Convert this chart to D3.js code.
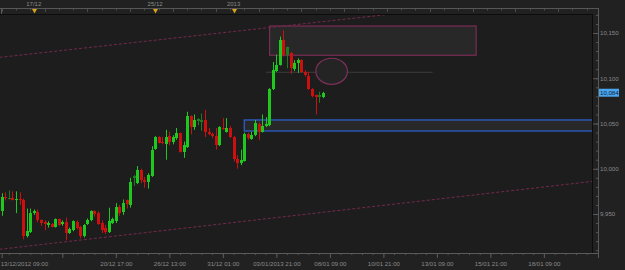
<!doctype html>
<html>
<head>
<meta charset="UTF-8">
<title>candles</title>
<script src="https://d3js.org/d3.v7.min.js"></script>
<style>
    body{ margin:0; background:#212121; }
    text{ font-family:"Liberation Sans", Arial, sans-serif; }
</style>
</head>
<body>
<script>
// 4 hour candles
var opens  = [9953,9969,9967,9968,9966,9967,9966,9926,9930,9951,9952,9943,9941,9938,9939,9936,9944,9939,9941,9929,
              9932,9941,9936,9926,9939,9943,9953,9951,9940,9935,9930,9940,9942,9958,9952,9965,9960,9990,9984,9999,
              9988,9985,9992,10022,10035,10030,10027,10036,10030,10034,10039,10019,10024,10058,10046,10053,10052,10054,10041,10038,
              10036,10026,10045,10041,10045,10035,10011,10006,10009,10038,10033,10037,10050,10041,10047,10048,10088,10108,10115,10142,
              10126,10128,10110,10117,10120,10107,10102,10088,10081,10079,10079];
var highs  = [9973,9974,9976,9975,9975,9974,9967,9956,9956,9955,9955,9944,9943,9942,9940,9945,9945,9943,9946,9935,
              9943,9943,9937,9939,9945,9954,9954,9953,9943,9938,9957,9946,9962,9960,9966,9966,9990,9993,10003,10000,
              9991,9995,10025,10036,10036,10035,10043,10041,10037,10045,10040,10030,10063,10059,10060,10056,10061,10065,10045,10040,
              10045,10047,10056,10056,10047,10036,10015,10021,10040,10040,10041,10054,10051,10060,10057,10089,10118,10126,10146,10153,
              10135,10129,10120,10122,10121,10109,10107,10089,10082,10085,10085];
var lows   = [9948,9965,9966,9965,9951,9960,9922,9924,9929,9949,9941,9937,9932,9935,9935,9935,9937,9937,9921,9928,
              9931,9933,9923,9924,9938,9942,9947,9938,9929,9928,9929,9939,9940,9948,9949,9956,9957,9981,9983,9984,
              9979,9978,9991,10021,10028,10027,10010,10026,10027,10032,10018,10012,10023,10038,10043,10048,10042,10035,10037,10034,
              10021,10025,10043,10040,10034,10008,10000,10004,10008,10032,10032,10036,10032,10040,10046,10047,10087,10107,10114,10124,
              10111,10105,10108,10106,10106,10102,10087,10079,10060,10073,10078];
var closes = [9969,9968,9968,9966,9967,9965,9926,9931,9951,9953,9943,9940,9939,9940,9936,9944,9938,9941,9929,9933,
              9942,9934,9926,9938,9943,9953,9950,9939,9932,9930,9942,9945,9958,9951,9962,9961,9985,9992,9999,9988,
              9985,9993,10021,10035,10029,10028,10035,10030,10035,10039,10019,10026,10058,10046,10054,10055,10054,10041,10038,10036,
              10026,10046,10044,10045,10035,10011,10006,10010,10038,10034,10037,10051,10041,10047,10050,10088,10109,10115,10142,10126,
              10134,10111,10117,10120,10107,10104,10088,10080,10079,10081,10084];
var dimBars = [2, 37, 55, 56, 80, 89];

var lastPrice = 10084;

// axis ticks (bar index) and labels
var xTickIdx    = [0, 17, 32, 47, 62, 77, 92, 107, 122, 137, 152];
var xTickLabels = ["13/12/2012 09:00", "", "20/12 17:00", "26/12 13:00", "31/12 01:00", "03/01/2013 21:00",
                   "08/01 09:00", "10/01 21:00", "13/01 09:00", "15/01 21:00", "18/01 09:00"];
var yTicks = [9950, 10000, 10050, 10100, 10150];
var topMarkIdx    = [9, 43, 65];
var topMarkLabels = ["17/12", "25/12", "2013"];

// drawn objects: [bar from, bar to, price low, price high]
var upperZone = [75.1, 133, 10125.4, 10157.7];
var lowerZone = [68, 175, 10041.7, 10053.9];
var levelLine = [74.1, 120.8, 10106.6];
var circleMark = [92.5, 10107.7, 4.43, 14.4];  // centre bar, centre price, half width in bars, half height in price
var upperTrend = [[-0.5, 10123.1], [106.9, 10169.9]];
var lowerTrend = [[-0.5, 9911.0], [164.9, 9985.7]];

var W = 625, H = 270;
var plotL = 0, plotR = 592, plotT = 14, plotB = 253;

var svg = d3.select("body").append("svg")
    .attr("width", W).attr("height", H);

svg.append("rect").attr("width", W).attr("height", H).attr("fill", "#212121");
svg.append("rect").attr("x", plotL).attr("y", plotT)
    .attr("width", plotR - plotL).attr("height", plotB - plotT).attr("fill", "#1d1d1d");

var x = d3.scaleLinear().domain([0, 165]).range([1.7, 1.7 + 165 * 3.567]);
var y = d3.scaleLinear().domain([9950, 10150]).range([214, 33]);

svg.append("clipPath").attr("id", "clip")
    .append("rect").attr("x", plotL).attr("y", plotT)
    .attr("width", plotR - plotL).attr("height", plotB - plotT);

var plot = svg.append("g").attr("clip-path", "url(#clip)");

// zones
function zone(z, stroke){
    plot.append("rect")
        .attr("x", x(z[0])).attr("y", y(z[3]))
        .attr("width", x(z[1]) - x(z[0])).attr("height", y(z[2]) - y(z[3]))
        .attr("fill", "#282828").attr("stroke", stroke).attr("stroke-width", 1.2);
}
zone(upperZone, "#7a2c55");
zone(lowerZone, "#2f62d8");

plot.append("line")
    .attr("x1", x(levelLine[0])).attr("x2", x(levelLine[1]))
    .attr("y1", y(levelLine[2])).attr("y2", y(levelLine[2]))
    .attr("stroke", "#3d3d3d").attr("stroke-width", 1);

plot.append("ellipse")
    .attr("cx", x(circleMark[0])).attr("cy", y(circleMark[1]))
    .attr("rx", x(circleMark[0] + circleMark[2]) - x(circleMark[0]))
    .attr("ry", y(circleMark[1] - circleMark[3]) - y(circleMark[1]))
    .attr("fill", "#242424").attr("stroke", "#80305c").attr("stroke-width", 1.2);

// trend lines, extended across the plot
function trend(t){
    var k = (t[1][1] - t[0][1]) / (t[1][0] - t[0][0]);
    var a = -2, b = 170;
    plot.append("line")
        .attr("x1", x(a)).attr("y1", y(t[0][1] + k * (a - t[0][0])))
        .attr("x2", x(b)).attr("y2", y(t[0][1] + k * (b - t[0][0])))
        .attr("stroke", "#73294b").attr("stroke-width", 1)
        .attr("stroke-dasharray", "3,2");
}
trend(upperTrend);
trend(lowerTrend);

// candles
var bars = d3.range(opens.length);
var colour = function(i){
    var up = closes[i] >= opens[i];
    var dim = dimBars.indexOf(i) >= 0;
    if(up) return dim ? "#1f7a1f" : "#1ec81e";
    return dim ? "#7a1a1a" : "#cc1010";
};

plot.selectAll(".wick").data(bars).enter().append("line")
    .attr("class", "wick")
    .attr("x1", function(i){ return Math.round(x(i)) + 0.5; })
    .attr("x2", function(i){ return Math.round(x(i)) + 0.5; })
    .attr("y1", function(i){ return y(highs[i]); })
    .attr("y2", function(i){ return y(lows[i]); })
    .attr("stroke", colour).attr("stroke-width", 1);

plot.selectAll(".body").data(bars).enter().append("rect")
    .attr("class", "body")
    .attr("x", function(i){ return Math.round(x(i)) - 1; })
    .attr("width", 3)
    .attr("y", function(i){ return y(Math.max(opens[i], closes[i])); })
    .attr("height", function(i){ return Math.max(1, Math.abs(y(opens[i]) - y(closes[i]))); })
    .attr("fill", colour)
    .attr("shape-rendering", "crispEdges");

// frame
svg.append("line").attr("x1", 0).attr("x2", plotR).attr("y1", plotT + 0.5).attr("y2", plotT + 0.5)
    .attr("stroke", "#0c0c0c");
svg.append("line").attr("x1", plotR + 0.5).attr("x2", plotR + 0.5).attr("y1", plotT).attr("y2", plotB)
    .attr("stroke", "#0c0c0c");

// top time strip
svg.append("line").attr("x1", 0).attr("x2", 598).attr("y1", 8.5).attr("y2", 8.5).attr("stroke", "#575757");
svg.append("line").attr("x1", 1.5).attr("x2", 1.5).attr("y1", 8).attr("y2", 14).attr("stroke", "#575757");
svg.selectAll(".ttick").data(d3.range(0, 166, 4)).enter().append("line")
    .attr("class", "ttick")
    .attr("x1", function(d){ return Math.round(x(d)) + 0.5; })
    .attr("x2", function(d){ return Math.round(x(d)) + 0.5; })
    .attr("y1", 9).attr("y2", function(d, i){ return i % 3 == 0 ? 12 : 10.5; })
    .attr("stroke", "#4a4a4a");
svg.selectAll(".tmark").data(topMarkIdx).enter().append("path")
    .attr("class", "tmark")
    .attr("d", function(d){ var cx = Math.round(x(d)) + 0.5; return "M" + (cx - 2.5) + ",9L" + (cx + 2.5) + ",9L" + cx + ",13.5Z"; })
    .attr("fill", "#d9a21c");
svg.selectAll(".tlabel").data(topMarkIdx).enter().append("text")
    .attr("class", "tlabel")
    .attr("x", function(d){ return x(d); }).attr("y", 6)
    .attr("text-anchor", "middle")
    .attr("font-size", "6px").attr("fill", "#8a8a8a")
    .text(function(d, i){ return topMarkLabels[i]; });

// bottom axis
var minorX = svg.append("g").attr("transform", "translate(0," + plotB + ")")
    .call(d3.axisBottom(x).tickValues(d3.range(2, 166, 3)).tickSizeInner(2).tickSizeOuter(0).tickFormat(""));
minorX.select(".domain").remove();
minorX.selectAll("line").attr("stroke", "#555");

var xAxis = svg.append("g").attr("transform", "translate(0," + plotB + ")")
    .call(d3.axisBottom(x).tickValues(xTickIdx)
        .tickFormat(function(d, i){ return xTickLabels[i]; })
        .tickSizeInner(5).tickSizeOuter(0).tickPadding(4));
xAxis.select(".domain").attr("d", "M0,0.5H598").attr("stroke", "#5a5a5a");
xAxis.selectAll("line").attr("stroke", "#5a5a5a");
xAxis.selectAll("text").attr("fill", "#8a8a8a").attr("font-size", "6.1px")
    .attr("font-family", "Liberation Sans, Arial, sans-serif");
xAxis.selectAll("text").filter(function(d){ return d == 0; })
    .attr("text-anchor", "start").attr("x", -1.5);

// right axis
var minorY = svg.append("g").attr("transform", "translate(598,0)")
    .call(d3.axisRight(y).tickValues(d3.range(9910, 10171, 10)).tickSizeInner(-2).tickSizeOuter(0).tickFormat(""));
minorY.select(".domain").remove();
minorY.selectAll("line").attr("stroke", "#555");

var yAxis = svg.append("g").attr("transform", "translate(598,0)")
    .call(d3.axisRight(y).tickValues(yTicks).tickFormat(d3.format(","))
        .tickSizeInner(-5).tickSizeOuter(0).tickPadding(2));
yAxis.select(".domain").attr("d", "M0.5,8V258").attr("stroke", "#5a5a5a");
yAxis.selectAll("line").attr("stroke", "#5a5a5a");
yAxis.selectAll("text").attr("fill", "#8a8a8a").attr("font-size", "6.1px")
    .attr("font-family", "Liberation Sans, Arial, sans-serif");

// last price tag
var tag = svg.append("g").attr("transform", "translate(599," + y(lastPrice) + ")");
tag.append("rect").attr("x", 0).attr("y", -4).attr("width", 20).attr("height", 8).attr("fill", "#4aa6ec");
tag.append("text").attr("x", 1).attr("y", 2.2).attr("font-size", "6.1px").attr("fill", "#0c1a40")
    .text(d3.format(",")(lastPrice));
</script>
</body>
</html>
